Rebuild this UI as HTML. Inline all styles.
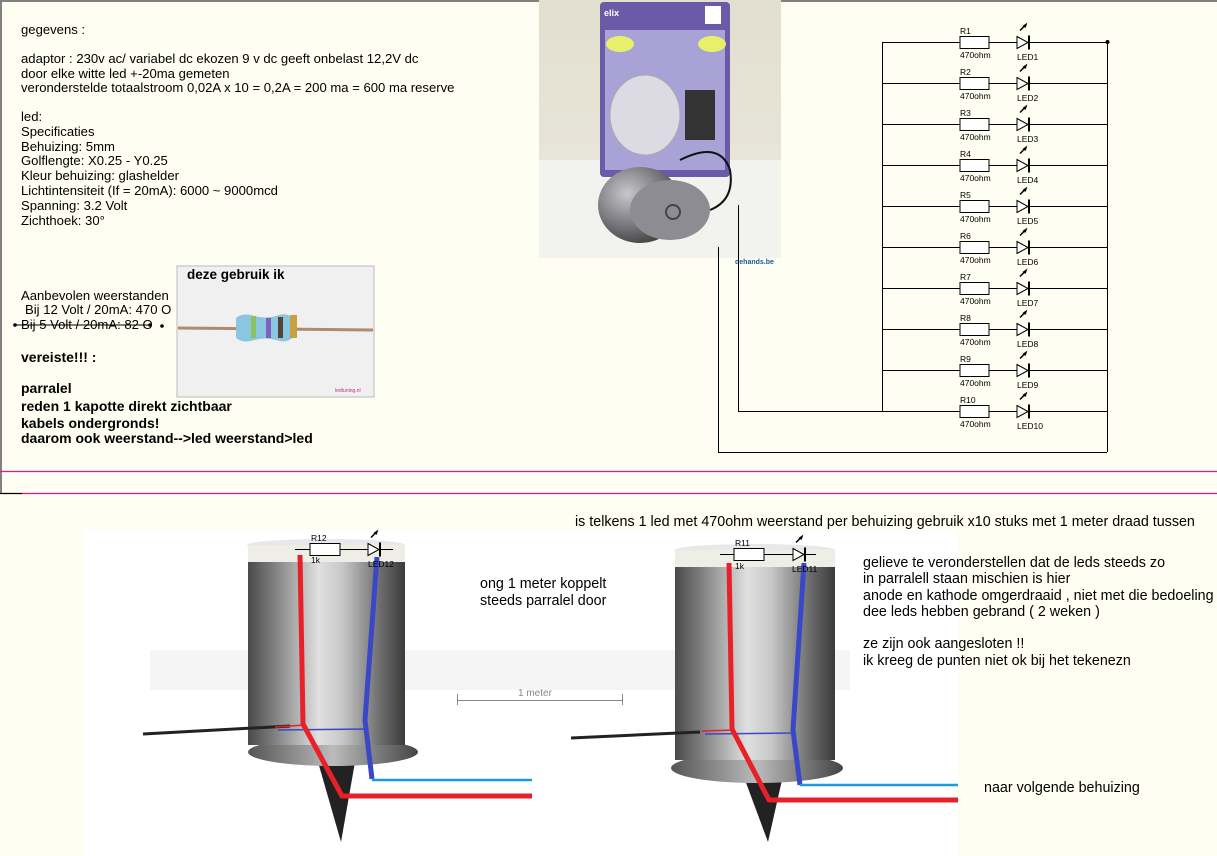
<!DOCTYPE html>
<html><head><meta charset="utf-8"><style>
html,body{margin:0;padding:0;background:#fefef2;}
svg{display:block;font-family:"Liberation Sans",Arial,sans-serif;}
</style></head><body>
<svg width="1217" height="856" viewBox="0 0 1217 856" xmlns="http://www.w3.org/2000/svg">
<defs>
<linearGradient id="cyl" x1="0" x2="1" y1="0" y2="0">
<stop offset="0" stop-color="#4a4a4a"/><stop offset="0.15" stop-color="#7a7a7a"/><stop offset="0.45" stop-color="#e0e0e0"/><stop offset="0.6" stop-color="#c8c8c8"/><stop offset="0.85" stop-color="#6a6a6a"/><stop offset="1" stop-color="#3a3a3a"/>
</linearGradient>
<linearGradient id="base" x1="0" x2="1"><stop offset="0" stop-color="#555"/><stop offset="0.5" stop-color="#bbb"/><stop offset="1" stop-color="#444"/></linearGradient>
<linearGradient id="wall" x1="0" x2="0" y1="0" y2="1"><stop offset="0" stop-color="#e2dfcf"/><stop offset="1" stop-color="#ebe9de"/></linearGradient>
<radialGradient id="adp" cx="0.35" cy="0.35" r="0.7"><stop offset="0" stop-color="#c8c8cc"/><stop offset="0.6" stop-color="#77777d"/><stop offset="1" stop-color="#444"/></radialGradient>
<g id="led"><polygon points="0,-6 11,0 0,6" fill="#fff" stroke="#000"/><line x1="12" y1="-7" x2="12" y2="7" stroke="#000" stroke-width="2"/><path d="M3,-12 l5,-5 M6,-16 l3,-2 l-1,3" stroke="#000" stroke-width="1.5" fill="none"/></g>
</defs>
<rect x="0" y="0" width="1217" height="2" fill="#808080"/>
<rect x="0" y="0" width="2" height="493" fill="#808080"/>
<line x1="0" y1="471.5" x2="1217" y2="471.5" stroke="#f0108a" stroke-width="1.2"/>
<line x1="22" y1="493.5" x2="1217" y2="493.5" stroke="#f0108a" stroke-width="1.2"/>
<line x1="0" y1="493.5" x2="22" y2="493.5" stroke="#000" stroke-width="1.2"/>

<g font-size="13.1" fill="#000">
<text x="21" y="34">gegevens :</text>
<text x="21" y="63">adaptor : 230v ac/ variabel dc ekozen 9 v dc geeft onbelast 12,2V dc</text>
<text x="21" y="78">door elke witte led +-20ma gemeten</text>
<text x="21" y="92">veronderstelde totaalstroom 0,02A x 10 = 0,2A = 200 ma = 600 ma reserve</text>
<text x="21" y="121">led:</text>
<text x="21" y="136">Specificaties</text>
<text x="21" y="151"> Behuizing: 5mm</text>
<text x="21" y="165">Golflengte: X0.25 - Y0.25</text>
<text x="21" y="180">Kleur behuizing: glashelder</text>
<text x="21" y="195">Lichtintensiteit (If = 20mA): 6000 ~ 9000mcd</text>
<text x="21" y="210">Spanning: 3.2 Volt</text>
<text x="21" y="225">Zichthoek: 30°</text>
<text x="21" y="300">Aanbevolen weerstanden</text>
<text x="25" y="314">Bij 12 Volt / 20mA: 470 O</text>
<text x="21" y="329">Bij 5 Volt / 20mA: 82 O</text>
</g>
<line x1="15" y1="325" x2="152" y2="325" stroke="#000"/>
<circle cx="15" cy="325" r="1.8"/><circle cx="150" cy="325" r="1.8"/><circle cx="162" cy="326" r="1.8"/>
<g font-size="14" font-weight="bold">
<text x="21" y="362">vereiste!!! :</text>
<text x="21" y="393">parralel</text>
<text x="21" y="411">reden 1 kapotte direkt zichtbaar</text>
<text x="21" y="428">kabels ondergronds!</text>
<text x="21" y="443">daarom ook weerstand--&gt;led weerstand&gt;led</text>
</g>

<rect x="177" y="266" width="197" height="131" fill="#f0f0f0"/>
<rect x="177" y="266" width="197" height="131" fill="none" stroke="#bbb"/>
<text x="187" y="279" font-size="13.5" font-weight="bold">deze gebruik ik</text>
<line x1="178" y1="328" x2="373" y2="330" stroke="#b08a70" stroke-width="3"/>
<path d="M236,318 q8,-6 18,-2 q12,3 22,0 q12,-5 18,4 v16 q-6,8 -18,4 q-10,-3 -22,0 q-10,4 -18,-2 z" fill="#8ac6e0"/>
<rect x="251" y="316" width="5" height="22" fill="#8cc060"/><rect x="266" y="318" width="5" height="20" fill="#8060c0"/><rect x="278" y="317" width="5" height="21" fill="#554433"/><rect x="290" y="315" width="7" height="23" fill="#c8a040"/>
<text x="335" y="392" font-size="5" fill="#c03080">ledtuning.nl</text>

<rect x="539" y="0" width="242" height="258" fill="url(#wall)"/>
<rect x="539" y="160" width="242" height="98" fill="#f2f2ee"/>
<rect x="600" y="2" width="130" height="175" fill="#6a5aa8" rx="4"/>
<rect x="605" y="30" width="120" height="140" fill="#a9a2d6"/>
<ellipse cx="620" cy="44" rx="14" ry="8" fill="#e8f06a"/><ellipse cx="712" cy="44" rx="14" ry="8" fill="#e8f06a"/>
<text x="604" y="16" font-size="9" font-weight="bold" fill="#fff">elix</text>
<rect x="705" y="6" width="16" height="18" fill="#fff"/>
<ellipse cx="645" cy="115" rx="35" ry="40" fill="#dcdae2" stroke="#aaa"/>
<rect x="685" y="90" width="30" height="50" fill="#333"/>
<path d="M680,160 q40,-20 50,10 q5,30 -20,40" stroke="#111" stroke-width="2" fill="none"/>
<ellipse cx="640" cy="205" rx="42" ry="38" fill="url(#adp)"/>
<ellipse cx="670" cy="210" rx="40" ry="30" fill="#8c8c92"/>
<circle cx="673" cy="212" r="7" fill="none" stroke="#444" stroke-width="2"/>
<text x="735" y="264" font-size="7" font-weight="bold" fill="#1a5a9a">dehands.be</text>

<g stroke="#000" stroke-width="1" fill="none">
<line x1="882.5" y1="42" x2="882.5" y2="411"/>
<line x1="1107.5" y1="42" x2="1107.5" y2="452"/>
<polyline points="738.5,205 738.5,411.5 882,411.5"/>
<polyline points="718.5,247 718.5,452.5 1107,452.5"/>
</g>
<circle cx="1107.5" cy="42" r="2"/>
<g font-size="8.5" fill="#000">
<g transform="translate(0,42)"><line x1="882" y1="0.5" x2="1107" y2="0.5" stroke="#000"/><rect x="960" y="-5.5" width="29" height="12" fill="#fff" stroke="#000"/><use href="#led" x="1017" y="0.5"/><text x="960" y="-8">R1</text><text x="960" y="16">470ohm</text><text x="1017" y="18">LED1</text></g>
<g transform="translate(0,83)"><line x1="882" y1="0.5" x2="1107" y2="0.5" stroke="#000"/><rect x="960" y="-5.5" width="29" height="12" fill="#fff" stroke="#000"/><use href="#led" x="1017" y="0.5"/><text x="960" y="-8">R2</text><text x="960" y="16">470ohm</text><text x="1017" y="18">LED2</text></g>
<g transform="translate(0,124)"><line x1="882" y1="0.5" x2="1107" y2="0.5" stroke="#000"/><rect x="960" y="-5.5" width="29" height="12" fill="#fff" stroke="#000"/><use href="#led" x="1017" y="0.5"/><text x="960" y="-8">R3</text><text x="960" y="16">470ohm</text><text x="1017" y="18">LED3</text></g>
<g transform="translate(0,165)"><line x1="882" y1="0.5" x2="1107" y2="0.5" stroke="#000"/><rect x="960" y="-5.5" width="29" height="12" fill="#fff" stroke="#000"/><use href="#led" x="1017" y="0.5"/><text x="960" y="-8">R4</text><text x="960" y="16">470ohm</text><text x="1017" y="18">LED4</text></g>
<g transform="translate(0,206)"><line x1="882" y1="0.5" x2="1107" y2="0.5" stroke="#000"/><rect x="960" y="-5.5" width="29" height="12" fill="#fff" stroke="#000"/><use href="#led" x="1017" y="0.5"/><text x="960" y="-8">R5</text><text x="960" y="16">470ohm</text><text x="1017" y="18">LED5</text></g>
<g transform="translate(0,247)"><line x1="882" y1="0.5" x2="1107" y2="0.5" stroke="#000"/><rect x="960" y="-5.5" width="29" height="12" fill="#fff" stroke="#000"/><use href="#led" x="1017" y="0.5"/><text x="960" y="-8">R6</text><text x="960" y="16">470ohm</text><text x="1017" y="18">LED6</text></g>
<g transform="translate(0,288)"><line x1="882" y1="0.5" x2="1107" y2="0.5" stroke="#000"/><rect x="960" y="-5.5" width="29" height="12" fill="#fff" stroke="#000"/><use href="#led" x="1017" y="0.5"/><text x="960" y="-8">R7</text><text x="960" y="16">470ohm</text><text x="1017" y="18">LED7</text></g>
<g transform="translate(0,329)"><line x1="882" y1="0.5" x2="1107" y2="0.5" stroke="#000"/><rect x="960" y="-5.5" width="29" height="12" fill="#fff" stroke="#000"/><use href="#led" x="1017" y="0.5"/><text x="960" y="-8">R8</text><text x="960" y="16">470ohm</text><text x="1017" y="18">LED8</text></g>
<g transform="translate(0,370)"><line x1="882" y1="0.5" x2="1107" y2="0.5" stroke="#000"/><rect x="960" y="-5.5" width="29" height="12" fill="#fff" stroke="#000"/><use href="#led" x="1017" y="0.5"/><text x="960" y="-8">R9</text><text x="960" y="16">470ohm</text><text x="1017" y="18">LED9</text></g>
<g transform="translate(0,411)"><line x1="882" y1="0.5" x2="1107" y2="0.5" stroke="#000"/><rect x="960" y="-5.5" width="29" height="12" fill="#fff" stroke="#000"/><use href="#led" x="1017" y="0.5"/><text x="960" y="-8">R10</text><text x="960" y="16">470ohm</text><text x="1017" y="18">LED10</text></g>
</g>

<text x="575" y="526" font-size="14.3">is telkens 1 led met 470ohm weerstand per behuizing gebruik x10 stuks met 1 meter draad tussen</text>
<rect x="85" y="530" width="873" height="326" fill="#fff"/>
<g fill="#f5f5f5"><rect x="150" y="650" width="700" height="40"/></g>

<g>
<path d="M318,762 L355,762 L341,842 Z" fill="#222"/>
<ellipse cx="333" cy="752" rx="85" ry="14" fill="url(#base)"/>
<rect x="248" y="545" width="157" height="200" fill="url(#cyl)"/>
<ellipse cx="326" cy="545" rx="79" ry="6" fill="#e8e8e8"/>
<rect x="248" y="545" width="157" height="17" fill="#eeeee6"/>
<line x1="143" y1="734" x2="290" y2="726" stroke="#222" stroke-width="3"/>
<line x1="275" y1="727" x2="305" y2="725" stroke="#e8202a" stroke-width="1.5"/>
<line x1="278" y1="730" x2="366" y2="729" stroke="#3a48c8" stroke-width="1.5"/>
<polyline points="300,555 303,724 342,796 532,796" fill="none" stroke="#e8202a" stroke-width="5" stroke-linejoin="round"/>
<line x1="342" y1="796" x2="532" y2="796" stroke="#e8202a" stroke-width="2.5"/>
<polyline points="377,557 365,720 372,779" fill="none" stroke="#3a48c8" stroke-width="5"/>
<line x1="372" y1="780" x2="532" y2="780" stroke="#1a9ae0" stroke-width="2.5"/>
<line x1="295" y1="549.5" x2="393" y2="549.5" stroke="#000"/>
<rect x="310" y="543.5" width="30" height="12" fill="#fff" stroke="#000"/>
<use href="#led" x="368" y="549.5"/>
<g font-size="8.5"><text x="311" y="541">R12</text><text x="311" y="563">1k</text><text x="368" y="567">LED12</text></g>
</g>

<g>
<path d="M745,780 L782,780 L768,842 Z" fill="#222"/>
<ellipse cx="757" cy="768" rx="86" ry="15" fill="url(#base)"/>
<rect x="675" y="550" width="160" height="210" fill="url(#cyl)"/>
<ellipse cx="755" cy="550" rx="80" ry="6" fill="#e8e8e8"/>
<rect x="675" y="550" width="160" height="17" fill="#eeeee6"/>
<line x1="571" y1="738" x2="700" y2="732" stroke="#222" stroke-width="3"/>
<line x1="702" y1="731" x2="735" y2="730" stroke="#e8202a" stroke-width="1.5"/>
<line x1="705" y1="734" x2="795" y2="733" stroke="#3a48c8" stroke-width="1.5"/>
<polyline points="729,563 732,729 769,800 958,800" fill="none" stroke="#e8202a" stroke-width="5" stroke-linejoin="round"/>
<polyline points="804,563 793,730 800,785" fill="none" stroke="#3a48c8" stroke-width="5"/>
<line x1="800" y1="785" x2="958" y2="785" stroke="#1a9ae0" stroke-width="2.5"/>
<line x1="720" y1="554.5" x2="816" y2="554.5" stroke="#000"/>
<rect x="734" y="548.5" width="30" height="12" fill="#fff" stroke="#000"/>
<use href="#led" x="793" y="554.5"/>
<g font-size="8.5"><text x="735" y="546">R11</text><text x="735" y="569">1k</text><text x="792" y="572">LED11</text></g>
</g>

<g stroke="#888" fill="none"><line x1="457.5" y1="694" x2="457.5" y2="705"/><line x1="622.5" y1="694" x2="622.5" y2="705"/><line x1="458" y1="700.5" x2="622" y2="700.5"/></g>
<text x="518" y="696" font-size="10" fill="#888">1 meter</text>

<g font-size="14.3">
<text x="480" y="588">ong 1 meter koppelt</text>
<text x="480" y="605">steeds parralel door</text>
<text x="863" y="567">gelieve te veronderstellen dat de leds steeds zo</text>
<text x="863" y="583">in parralell staan mischien is hier</text>
<text x="863" y="600">anode en kathode omgerdraaid , niet met die bedoeling</text>
<text x="863" y="616">dee leds hebben gebrand ( 2 weken )</text>
<text x="863" y="648">ze zijn ook aangesloten !!</text>
<text x="863" y="665">ik kreeg de punten niet ok bij het tekenezn</text>
<text x="984" y="792">naar volgende behuizing</text>
</g>
</svg>
</body></html>
